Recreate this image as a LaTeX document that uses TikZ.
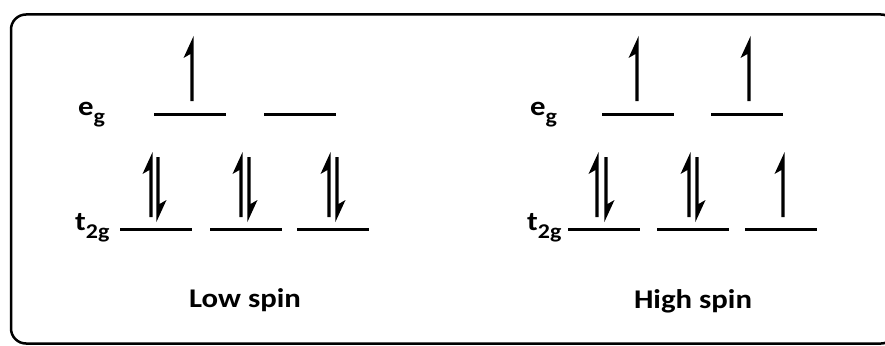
\documentclass[tikz,border=0pt]{standalone}
\usepackage{fontspec}
\setmainfont{Carlito}[FakeStretch=1.14]
\newcommand{\lowsub}[1]{\raisebox{-8pt}{\fontsize{21}{24}\selectfont #1}}
\begin{document}
\begin{tikzpicture}[x=1pt,y=-1pt,
  level/.style={line width=3pt},
  lbl/.style={anchor=base west,inner sep=0pt,font=\fontsize{27}{30}\selectfont\bfseries},
  title/.style={anchor=base,inner sep=0pt,font=\fontsize{27}{30}\selectfont\bfseries},
  spinup/.pic={\fill (-1.6,0) -- (1.6,0) -- (1.6,-65) -- (-8.5,-43) -- (-1.6,-47) -- cycle;},
  spindown/.pic={\fill (1.6,0) -- (-1.6,0) -- (-1.6,65) -- (8.5,43) -- (1.6,47) -- cycle;}
]
\useasboundingbox (0,0) rectangle (885,345);
\clip (0,0) rectangle (885,345);
\draw[line width=2.5pt,rounded corners=15pt] (11,14.5) rectangle (896,343.5);

% Low spin
\node[lbl] (egL) at (78,115) {e\lowsub{g}};
\node[lbl] (t2gL) at (75,230) {t\lowsub{2g}};
\coordinate (Le1a) at (154,114); \coordinate (Le1b) at (226,114);
\coordinate (Le2a) at (264,114); \coordinate (Le2b) at (336,114);
\draw[level] (Le1a) -- (Le1b);
\draw[level] (Le2a) -- (Le2b);
\coordinate (Lt1a) at (120,229); \coordinate (Lt1b) at (192,229);
\coordinate (Lt2a) at (210,229); \coordinate (Lt2b) at (282,229);
\coordinate (Lt3a) at (297,229); \coordinate (Lt3b) at (369,229);
\draw[level] (Lt1a) -- (Lt1b);
\draw[level] (Lt2a) -- (Lt2b);
\draw[level] (Lt3a) -- (Lt3b);
\pic at (192,101) {spinup};
\pic at (151,217) {spinup};
\pic at (158,157) {spindown};
\pic at (241,217) {spinup};
\pic at (249,157) {spindown};
\pic at (329,217) {spinup};
\pic at (337,157) {spindown};
\node[title] (lowspin) at (245,307) {Low spin};

% High spin
\node[lbl] (egH) at (530,115) {e\lowsub{g}};
\node[lbl] (t2gH) at (527,230) {t\lowsub{2g}};
\coordinate (He1a) at (602,114); \coordinate (He1b) at (674,114);
\coordinate (He2a) at (711,114); \coordinate (He2b) at (783,114);
\draw[level] (He1a) -- (He1b);
\draw[level] (He2a) -- (He2b);
\coordinate (Ht1a) at (568,229); \coordinate (Ht1b) at (640,229);
\coordinate (Ht2a) at (657,229); \coordinate (Ht2b) at (729,229);
\coordinate (Ht3a) at (745,229); \coordinate (Ht3b) at (817,229);
\draw[level] (Ht1a) -- (Ht1b);
\draw[level] (Ht2a) -- (Ht2b);
\draw[level] (Ht3a) -- (Ht3b);
\pic at (637,101) {spinup};
\pic at (749,101) {spinup};
\pic at (597,217) {spinup};
\pic at (606,157) {spindown};
\pic at (689,217) {spinup};
\pic at (697,157) {spindown};
\pic at (783,217) {spinup};
\node[title] (highspin) at (693,308) {High spin};
\end{tikzpicture}
\end{document}
